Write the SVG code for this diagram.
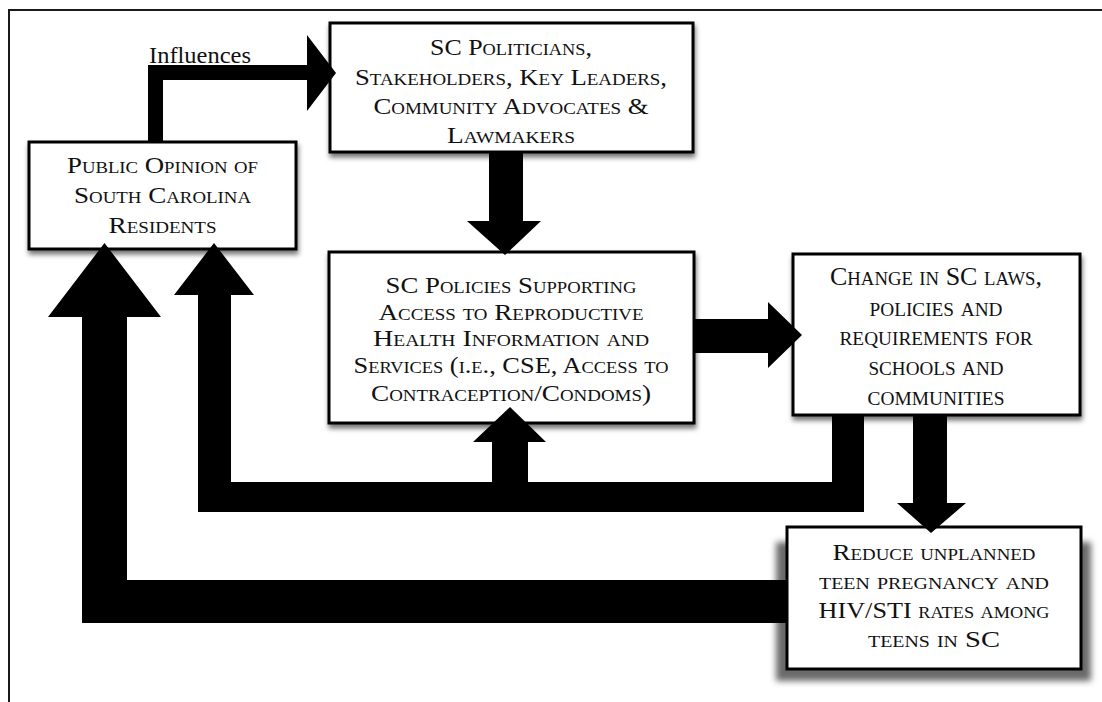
<svg xmlns="http://www.w3.org/2000/svg" width="1102" height="702" viewBox="0 0 1102 702">
<style>
.box{fill:#fff;stroke:#000;stroke-width:3}
.t{font-family:"Liberation Serif","Times New Roman",serif;font-variant:small-caps;fill:#111;text-anchor:middle}
.lbl{font-family:"Liberation Serif","Times New Roman",serif;fill:#111}
.conn{fill:#000}
</style>
<defs>
<filter id="sh" x="-10%" y="-10%" width="130%" height="140%">
<feDropShadow dx="1" dy="4" stdDeviation="2.5" flood-color="#000" flood-opacity="0.55"/>
</filter>
<filter id="blur" x="-10%" y="-10%" width="120%" height="130%">
<feGaussianBlur stdDeviation="3"/>
</filter>
</defs>
<rect width="1102" height="702" fill="#fff"/>
<path d="M9,702 V10 H1102" fill="none" stroke="#1a1a1a" stroke-width="2"/>

<g id="node-public-opinion">
<rect class="box" x="29" y="142" width="267" height="107" filter="url(#sh)"/>
<text class="t" font-size="23"><tspan x="162.5" y="173" textLength="191" lengthAdjust="spacingAndGlyphs">Public Opinion of</tspan><tspan x="162.5" y="203" textLength="177" lengthAdjust="spacingAndGlyphs">South Carolina</tspan><tspan x="162.5" y="233" textLength="108" lengthAdjust="spacingAndGlyphs">Residents</tspan></text>
</g>

<g id="node-politicians">
<rect class="box" x="330" y="23" width="363" height="129" filter="url(#sh)"/>
<text class="t" font-size="24"><tspan x="511" y="55" textLength="162" lengthAdjust="spacingAndGlyphs">SC Politicians,</tspan><tspan x="511" y="85" textLength="312" lengthAdjust="spacingAndGlyphs">Stakeholders, Key Leaders,</tspan><tspan x="511" y="114" textLength="275" lengthAdjust="spacingAndGlyphs">Community Advocates &amp;</tspan><tspan x="511" y="143" textLength="128" lengthAdjust="spacingAndGlyphs">Lawmakers</tspan></text>
</g>

<g id="node-policies">
<rect class="box" x="329" y="252" width="365" height="171" filter="url(#sh)"/>
<text class="t" font-size="23"><tspan x="511" y="293" textLength="251" lengthAdjust="spacingAndGlyphs">SC Policies Supporting</tspan><tspan x="511" y="320" textLength="265" lengthAdjust="spacingAndGlyphs">Access to Reproductive</tspan><tspan x="511" y="346" textLength="276" lengthAdjust="spacingAndGlyphs">Health Information and</tspan><tspan x="511" y="373" textLength="315" lengthAdjust="spacingAndGlyphs">Services (i.e., CSE, Access to</tspan><tspan x="511" y="401" textLength="280" lengthAdjust="spacingAndGlyphs">Contraception/Condoms)</tspan></text>
</g>

<g id="node-change">
<rect class="box" x="793" y="254" width="287" height="161" filter="url(#sh)"/>
<text class="t" font-size="25"><tspan x="936" y="285" textLength="212" lengthAdjust="spacingAndGlyphs">Change in SC laws,</tspan><tspan x="936" y="316" textLength="133" lengthAdjust="spacingAndGlyphs">policies and</tspan><tspan x="936" y="345" textLength="193" lengthAdjust="spacingAndGlyphs">requirements for</tspan><tspan x="936" y="375" textLength="135" lengthAdjust="spacingAndGlyphs">schools and</tspan><tspan x="936" y="405" textLength="137" lengthAdjust="spacingAndGlyphs">communities</tspan></text>
</g>

<g id="node-reduce">
<rect x="776" y="542" width="315" height="139" fill="#6a6a6a" filter="url(#blur)"/>
<rect class="box" x="787" y="527" width="294" height="142"/>
<text class="t" font-size="23"><tspan x="934" y="560" textLength="203" lengthAdjust="spacingAndGlyphs">Reduce unplanned</tspan><tspan x="934" y="589" textLength="230" lengthAdjust="spacingAndGlyphs">teen pregnancy and</tspan><tspan x="934" y="618" textLength="231" lengthAdjust="spacingAndGlyphs">HIV/STI rates among</tspan><tspan x="934" y="647" textLength="132" lengthAdjust="spacingAndGlyphs">teens in SC</tspan></text>
</g>

<g id="connectors">
<polygon class="conn" points="148,142 148,65 307,65 307,35 336,73 307,111 307,80 163,80 163,142"/>
<text class="lbl" x="149" y="63" font-size="23" textLength="102" lengthAdjust="spacingAndGlyphs">Influences</text>
<polygon class="conn" points="489,152 523,152 523,221 541,221 505,255 467,221 489,221"/>
<polygon class="conn" points="694,319 768,319 768,302 802,335 768,368 768,353 694,353"/>
<polygon class="conn" points="913,415 947,415 947,503 966,503 931,533 897,503 913,503"/>
<polygon class="conn" points="832,415 864,415 864,512 198,512 198,295 174,295 214,243 254,295 231,295 231,482 832,482"/>
<polygon class="conn" points="492,483 492,442 473,442 510,407 546,442 528,442 528,483"/>
<polygon class="conn" points="787,580 787,623 82,623 82,317 48,317 104.5,243 161,317 127,317 127,580"/>
</g>
</svg>
